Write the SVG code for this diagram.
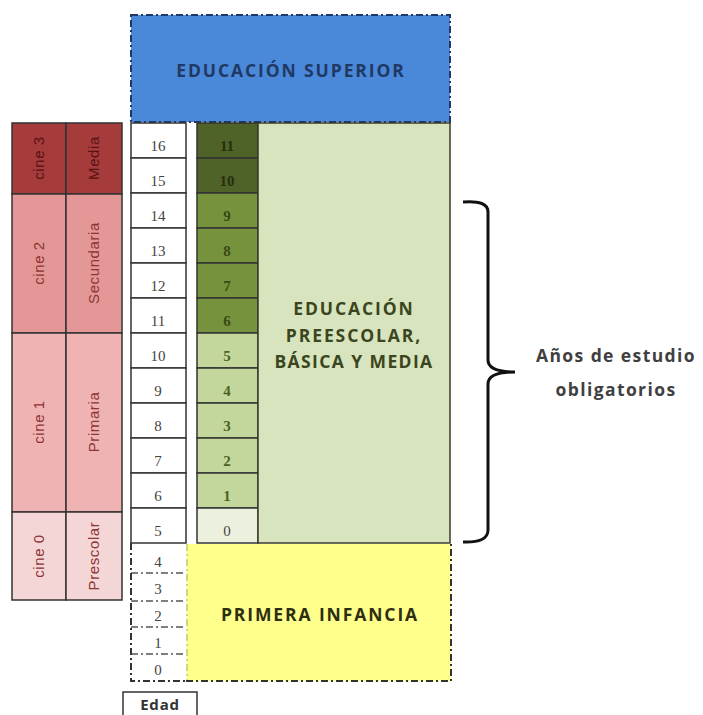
<svg xmlns="http://www.w3.org/2000/svg" width="703" height="715" viewBox="0 0 703 715">
<style>
.h{font-family:"Open Sans","Liberation Sans",Arial,sans-serif;font-weight:bold;font-size:17.5px;letter-spacing:1.9px;text-anchor:middle}
.num{font-family:"Liberation Serif","Times New Roman",serif;font-size:15px;text-anchor:middle;fill:#444}
.gnum{font-family:"Liberation Serif","Times New Roman",serif;font-size:15px;text-anchor:middle;font-weight:bold}
.lab{font-family:"Liberation Sans",Arial,sans-serif;font-size:15px;text-anchor:middle;letter-spacing:0.6px}
.cell{stroke:#333;stroke-width:1.5}
.dd{fill:none;stroke-dasharray:7 3 2 3}
</style>
<rect width="703" height="715" fill="#fff"/>

<g id="educacion-superior">
<rect x="131" y="15" width="319" height="107" fill="#4a88d9"/>
<rect x="131" y="15" width="319" height="107" class="dd" stroke="#1f3864" stroke-width="2"/>
<text x="291" y="77" class="h" fill="#1f3864">EDUCACIÓN SUPERIOR</text>
</g>

<g id="cine">
<rect x="12" y="123" width="54" height="71" fill="#a63b3c" class="cell"/>
<rect x="66" y="123" width="56" height="71" fill="#a63b3c" class="cell"/>
<rect x="12" y="194" width="54" height="139" fill="#e39797" class="cell"/>
<rect x="66" y="194" width="56" height="139" fill="#e39797" class="cell"/>
<rect x="12" y="333" width="54" height="179" fill="#efb3b3" class="cell"/>
<rect x="66" y="333" width="56" height="179" fill="#efb3b3" class="cell"/>
<rect x="12" y="512" width="54" height="88" fill="#f5d6d6" class="cell"/>
<rect x="66" y="512" width="56" height="88" fill="#f5d6d6" class="cell"/>
<text class="lab" fill="#5a1212" transform="translate(44,158) rotate(-90)">cine 3</text>
<text class="lab" fill="#5a1212" transform="translate(99,158) rotate(-90)">Media</text>
<text class="lab" fill="#8e3434" transform="translate(44,263) rotate(-90)">cine 2</text>
<text class="lab" fill="#8e3434" transform="translate(99,263) rotate(-90)">Secundaria</text>
<text class="lab" fill="#8e3434" transform="translate(44,422) rotate(-90)">cine 1</text>
<text class="lab" fill="#8e3434" transform="translate(99,422) rotate(-90)">Primaria</text>
<text class="lab" fill="#8e3434" transform="translate(44,556) rotate(-90)">cine 0</text>
<text class="lab" fill="#8e3434" transform="translate(99,556) rotate(-90)">Prescolar</text>
</g>

<g id="edad-columna">
<rect x="131" y="123" width="55" height="35" fill="#fff" class="cell"/>
<rect x="131" y="158" width="55" height="35" fill="#fff" class="cell"/>
<rect x="131" y="193" width="55" height="35" fill="#fff" class="cell"/>
<rect x="131" y="228" width="55" height="35" fill="#fff" class="cell"/>
<rect x="131" y="263" width="55" height="35" fill="#fff" class="cell"/>
<rect x="131" y="298" width="55" height="35" fill="#fff" class="cell"/>
<rect x="131" y="333" width="55" height="35" fill="#fff" class="cell"/>
<rect x="131" y="368" width="55" height="35" fill="#fff" class="cell"/>
<rect x="131" y="403" width="55" height="35" fill="#fff" class="cell"/>
<rect x="131" y="438" width="55" height="35" fill="#fff" class="cell"/>
<rect x="131" y="473" width="55" height="35" fill="#fff" class="cell"/>
<rect x="131" y="508" width="55" height="35" fill="#fff" class="cell"/>
<text x="158" y="151" class="num">16</text>
<text x="158" y="186" class="num">15</text>
<text x="158" y="221" class="num">14</text>
<text x="158" y="256" class="num">13</text>
<text x="158" y="291" class="num">12</text>
<text x="158" y="326" class="num">11</text>
<text x="158" y="361" class="num">10</text>
<text x="158" y="396" class="num">9</text>
<text x="158" y="431" class="num">8</text>
<text x="158" y="466" class="num">7</text>
<text x="158" y="501" class="num">6</text>
<text x="158" y="536" class="num">5</text>
<path d="M131 573H186M131 601H186M131 627H186M131 654H186" class="dd" stroke="#555" stroke-width="1.5"/>
<path d="M131 543V681H186" class="dd" stroke="#333" stroke-width="2"/>
<text x="158" y="567" class="num">4</text>
<text x="158" y="594" class="num">3</text>
<text x="158" y="621" class="num">2</text>
<text x="158" y="648" class="num">1</text>
<text x="158" y="675" class="num">0</text>
</g>

<g id="grados">
<rect x="197" y="123" width="61" height="35" fill="#4f6228" class="cell"/>
<rect x="197" y="158" width="61" height="35" fill="#4f6228" class="cell"/>
<rect x="197" y="193" width="61" height="35" fill="#76923c" class="cell"/>
<rect x="197" y="228" width="61" height="35" fill="#76923c" class="cell"/>
<rect x="197" y="263" width="61" height="35" fill="#76923c" class="cell"/>
<rect x="197" y="298" width="61" height="35" fill="#76923c" class="cell"/>
<rect x="197" y="333" width="61" height="35" fill="#c3d69b" class="cell"/>
<rect x="197" y="368" width="61" height="35" fill="#c3d69b" class="cell"/>
<rect x="197" y="403" width="61" height="35" fill="#c3d69b" class="cell"/>
<rect x="197" y="438" width="61" height="35" fill="#c3d69b" class="cell"/>
<rect x="197" y="473" width="61" height="35" fill="#c3d69b" class="cell"/>
<rect x="197" y="508" width="61" height="35" fill="#ebf1de" class="cell"/>
<text x="227" y="151" class="gnum" fill="#26300c">11</text>
<text x="227" y="186" class="gnum" fill="#26300c">10</text>
<text x="227" y="221" class="gnum" fill="#3a4a16">9</text>
<text x="227" y="256" class="gnum" fill="#3a4a16">8</text>
<text x="227" y="291" class="gnum" fill="#3a4a16">7</text>
<text x="227" y="326" class="gnum" fill="#3a4a16">6</text>
<text x="227" y="361" class="gnum" fill="#4c6222">5</text>
<text x="227" y="396" class="gnum" fill="#4c6222">4</text>
<text x="227" y="431" class="gnum" fill="#4c6222">3</text>
<text x="227" y="466" class="gnum" fill="#4c6222">2</text>
<text x="227" y="501" class="gnum" fill="#4c6222">1</text>
<text x="227" y="536" class="num" fill="#556">0</text>
</g>

<g id="educacion-basica">
<rect x="258" y="123" width="192" height="420" fill="#d7e4bd" stroke="#3a3a2a" stroke-width="1.5"/>
<text x="354" y="315" class="h" fill="#3b4520">EDUCACIÓN</text>
<text x="354" y="342" class="h" fill="#3b4520">PREESCOLAR,</text>
<text x="354" y="368" class="h" fill="#3b4520" style="letter-spacing:1.4px">BÁSICA Y MEDIA</text>
</g>

<g id="primera-infancia">
<rect x="187" y="544" width="264" height="137" fill="#ffff8c"/>
<path d="M187 544V681" class="dd" stroke="#c8c860" stroke-width="1.5"/>
<path d="M186 681H451V543" class="dd" stroke="#333" stroke-width="2"/>
<text x="320" y="621" class="h" fill="#2e2e10">PRIMERA INFANCIA</text>
</g>

<g id="edad">
<rect x="123" y="692" width="74" height="30" fill="#fff" stroke="#333" stroke-width="1.5"/>
<text x="160" y="710" class="h" fill="#333" style="font-size:15px;letter-spacing:0.8px">Edad</text>
</g>

<g id="connectors">
<path d="M463 202Q488 200 488 212V360Q488 372 515 372Q488 372 488 384V530Q488 543 463 542" fill="none" stroke="#111" stroke-width="3"/>
</g>

<g id="anos-obligatorios">
<text x="616" y="362" class="h" fill="#404040" style="letter-spacing:1.4px">Años de estudio</text>
<text x="616" y="396" class="h" fill="#404040" style="letter-spacing:1.4px">obligatorios</text>
</g>
</svg>
